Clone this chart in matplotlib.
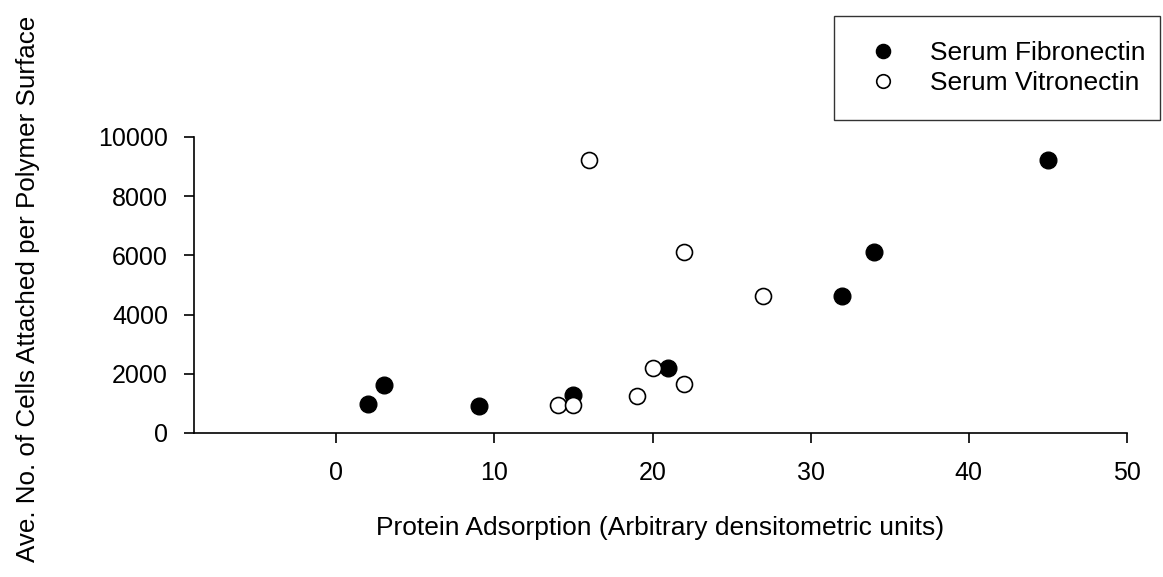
import matplotlib
matplotlib.use("Agg")
import matplotlib.pyplot as plt

plt.rcParams['font.family'] = ['Liberation Sans', 'DejaVu Sans']

# serum fibronectin
fn_x = [2, 3, 9, 15, 21, 32, 34, 45]
fn_y = [980, 1620, 910, 1270, 2190, 4630, 6110, 9220]

# serum vitronectin
vn_x = [14, 15, 16, 19, 20, 22, 22, 27]
vn_y = [930, 950, 9220, 1250, 2190, 1650, 6110, 4630]

fig = plt.figure(figsize=(11.63, 5.77), dpi=100)
ax = fig.add_axes([0.1668, 0.2496, 0.8022, 0.513])

ax.plot(fn_x, fn_y, 'o', color='black', markersize=12, label='Serum Fibronectin')
ax.plot(vn_x, vn_y, 'o', markerfacecolor='white', markeredgecolor='black',
        markeredgewidth=1.2, markersize=11.5, label='Serum Vitronectin')

ax.set_xlim(-9, 50)
ax.set_ylim(0, 10000)
ax.set_xticks([0, 10, 20, 30, 40, 50])
ax.set_yticks([0, 2000, 4000, 6000, 8000, 10000])

ax.spines['top'].set_visible(False)
ax.spines['right'].set_visible(False)
for s in ['left', 'bottom']:
    ax.spines[s].set_linewidth(1.2)
ax.tick_params(direction='out', length=7.2, width=1.2, labelsize=18)
ax.tick_params(axis='x', pad=13)
ax.tick_params(axis='y', pad=11.5)

ax.set_xlabel('Protein Adsorption (Arbitrary densitometric units)', fontsize=19, labelpad=22)
fig.text(0.024, 0.5, 'Ave. No. of Cells Attached per Polymer Surface', rotation=90,
         fontsize=18.7, ha='center', va='center')

leg = fig.legend(loc='upper left', bbox_to_anchor=(0.717, 0.9723, 0.2803, 0.0), mode='expand',
                 borderaxespad=0, fancybox=False, edgecolor='black', fontsize=19,
                 borderpad=0.95, handlelength=1.81, handletextpad=0.875,
                 labelspacing=0.22, markerscale=0.85)
leg.get_frame().set_linewidth(1.0)

fig.savefig('out.png', dpi=100)
